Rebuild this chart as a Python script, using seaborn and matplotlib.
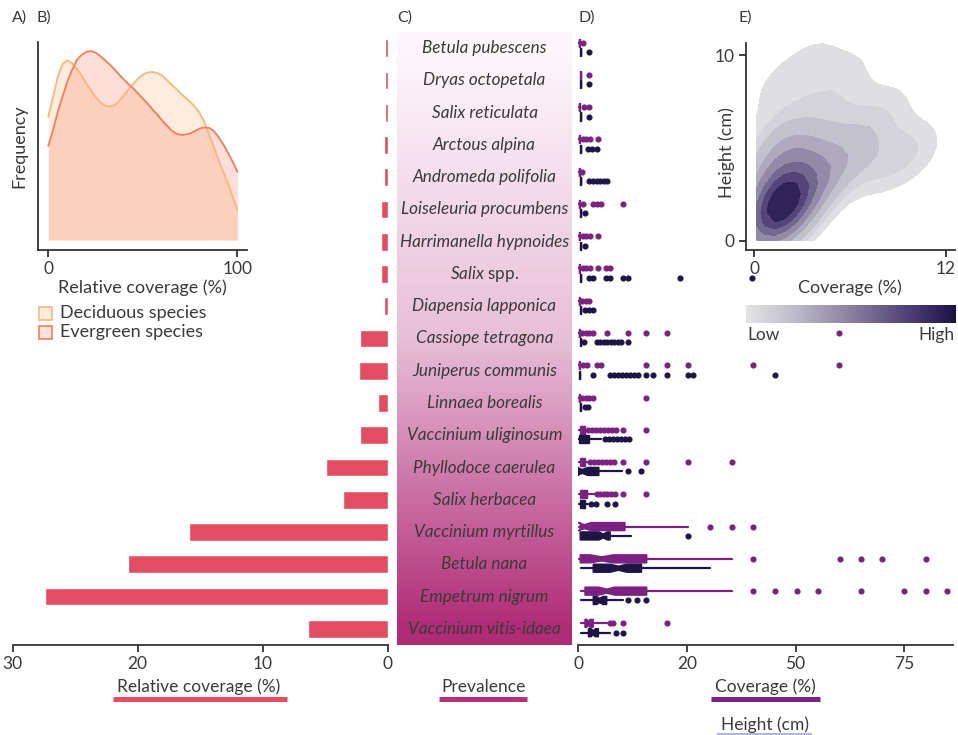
import numpy as np
import pandas as pd
import matplotlib
matplotlib.use("Agg")
import matplotlib.pyplot as plt
import seaborn as sns
from matplotlib.colors import LinearSegmentedColormap, Normalize
from matplotlib.cm import ScalarMappable
from matplotlib.lines import Line2D
from matplotlib.patches import Rectangle

# ---------------------------------------------------------------- data
species = ["Betula pubescens", "Dryas octopetala", "Salix reticulata", "Arctous alpina",
           "Andromeda polifolia", "Loiseleuria procumbens", "Harrimanella hypnoides",
           "Salix spp.", "Diapensia lapponica", "Cassiope tetragona", "Juniperus communis",
           "Linnaea borealis", "Vaccinium uliginosum", "Phyllodoce caerulea",
           "Salix herbacea", "Vaccinium myrtillus", "Betula nana", "Empetrum nigrum",
           "Vaccinium vitis-idaea"]

# A) relative coverage (%)
rel_cover = [0.2, 0.2, 0.2, 0.25, 0.25, 0.5, 0.5, 0.5, 0.25, 2.2, 2.25, 0.8, 2.2,
             4.9, 3.6, 15.9, 20.8, 27.4, 6.4]

# C) prevalence (% of plots)
prevalence = [4, 9, 14, 19, 24, 29, 34, 39, 44, 49, 54, 59, 64, 69, 74, 79, 84, 89, 94]

# B) density of relative coverage, deciduous vs evergreen species
dens_x = [0, 2.5, 5, 7.5, 10, 12.5, 15, 17.5, 20, 22.5, 25, 27.5, 30, 32.5, 35, 37.5,
          40, 42.5, 45, 47.5, 50, 52.5, 55, 57.5, 60, 62.5, 65, 67.5, 70, 72.5, 75,
          77.5, 80, 82.5, 85, 87.5, 90, 92.5, 95, 97.5, 100]
dens_deciduous = [3.70, 4.30, 4.90, 5.28, 5.40, 5.32, 5.15, 4.95, 4.72, 4.50, 4.30,
                  4.14, 4.04, 4.01, 4.05, 4.18, 4.35, 4.53, 4.70, 4.85, 4.97, 5.03,
                  5.05, 5.02, 4.95, 4.82, 4.68, 4.55, 4.40, 4.28, 4.15, 4.00, 3.82,
                  3.55, 3.18, 2.80, 2.40, 2.05, 1.70, 1.30, 0.90]
dens_evergreen = [2.83, 3.30, 3.85, 4.30, 4.75, 5.10, 5.40, 5.56, 5.65, 5.68, 5.63,
                  5.53, 5.40, 5.27, 5.13, 4.97, 4.82, 4.68, 4.55, 4.40, 4.25, 4.10,
                  3.93, 3.78, 3.60, 3.45, 3.30, 3.20, 3.16, 3.17, 3.20, 3.27, 3.35,
                  3.38, 3.37, 3.28, 3.10, 2.88, 2.62, 2.35, 2.05]

# D) coverage (%) box statistics per species
cov_lo = [0.1, 0.5, 0.1, 0.1, 0.1, 0.1, 0.1, 0.1, 0.1, 0.1, 0.1, 0.1, 0.3, 0.3, 0.3, 0.3, 0.3, 0.8, 0.8]
cov_q1 = [0.2, 0.5, 0.2, 0.2, 0.2, 0.2, 0.2, 0.2, 0.2, 0.2, 0.2, 0.2, 0.4, 0.4, 0.4, 0.5, 0.5, 1.6, 1.6]
cov_med = [0.3, 0.6, 0.3, 0.3, 0.3, 0.3, 0.3, 0.3, 0.3, 0.3, 0.3, 0.3, 0.8, 0.9, 1.0, 1.5, 5.4, 6.6, 2.4]
cov_q3 = [0.4, 0.7, 0.4, 0.4, 0.4, 0.4, 0.4, 0.4, 0.4, 0.4, 0.4, 0.4, 1.5, 1.6, 2.0, 10.8, 15.8, 15.8, 3.5]
cov_hi = [0.5, 0.7, 0.5, 0.5, 0.5, 0.5, 0.5, 0.5, 0.5, 0.5, 0.5, 0.5, 1.8, 2.2, 3.8, 25.4, 35.3, 35.3, 6.6]
cov_ci = {15: (0.0, 3.0), 16: (2.8, 8.1), 17: (4.7, 8.5), 18: (2.0, 2.8)}
cov_out = [[1.2], [2.6], [1.3, 2.6], [1.1, 1.9, 2.7, 4.6], [1.0],
           [1.2, 3.5, 4.4, 5.3, 10.4], [1.1, 1.9, 2.7, 4.6],
           [1.1, 1.9, 2.7, 4.6, 6.4, 7.3], [1.0, 1.8, 2.5],
           [1.0, 1.8, 2.6, 3.4, 6.6, 11.6, 15.6, 20.4, 60.0],
           [1.2, 2.0, 4.3, 5.3, 15.6, 20.4, 25.4, 40.2, 60.0],
           [1.0, 1.8, 2.6, 3.4, 15.6],
           [2.4, 3.3, 4.2, 5.1, 6.0, 6.9, 7.8, 8.7, 10.4, 15.6],
           [2.8, 3.7, 4.6, 5.5, 6.4, 7.3, 8.2, 10.4, 15.6, 25.4, 35.3],
           [4.3, 5.1, 5.9, 6.7, 7.5, 8.5, 10.4, 15.6],
           [30.3, 35.3, 40.2],
           [40.2, 60.2, 65.1, 69.9, 80.0],
           [40.2, 45.3, 50.3, 55.1, 65.1, 75.0, 80.0, 84.9],
           [7.4, 8.1, 10.4, 20.4]]

# D) height (cm) box statistics per species
hgt_lo = [0.5, 0.5, 0.5, 0.5, 0.5, 0.5, 0.5, 0.5, 0.5, 0.5, 0.3, 0.4, 0.1, 0.0, 0.3, 0.5, 0.8, 0.8, 0.8]
hgt_q1 = [0.5, 0.5, 0.5, 0.5, 0.5, 0.5, 0.5, 0.5, 0.5, 0.5, 0.3, 0.4, 0.3, 0.1, 0.4, 0.5, 3.5, 3.5, 2.4]
hgt_med = [0.6, 0.6, 0.6, 0.6, 0.6, 0.6, 0.6, 0.6, 0.6, 0.6, 0.4, 0.5, 1.2, 1.0, 0.9, 5.8, 9.3, 5.0, 3.5]
hgt_q3 = [0.7, 0.7, 0.7, 0.7, 0.7, 0.7, 0.7, 0.7, 0.7, 0.7, 0.5, 0.6, 2.6, 4.8, 1.6, 7.4, 14.6, 6.6, 4.7]
hgt_hi = [0.7, 0.7, 0.7, 0.7, 0.7, 0.7, 0.7, 0.7, 0.7, 0.7, 0.5, 0.6, 5.4, 10.0, 2.4, 12.1, 30.3, 10.4, 7.4]
hgt_ci = {13: (-0.3, 2.3), 15: (4.8, 6.8), 16: (7.4, 11.2), 17: (4.3, 5.7), 18: (3.0, 4.0)}
hgt_out = [[2.6], [2.6], [2.6], [2.4, 3.3, 4.3], [2.6, 3.5, 4.3, 5.1, 5.9, 6.7],
           [1.6], [1.6], [2.6, 3.5, 6.4, 7.3, 10.4, 11.4, 23.4, 40.0], [1.6, 2.5, 3.4],
           [1.4, 4.3, 5.1, 5.9, 6.7, 7.5, 8.3, 9.1, 9.9, 11.6],
           [3.5, 7.4, 8.3, 9.2, 10.1, 11.0, 11.9, 12.8, 13.7, 15.6, 17.3, 20.4, 25.2,
            26.4, 45.3],
           [1.5, 2.4], [6.3, 7.2, 8.1, 9.0, 9.9, 10.8, 11.7], [11.6, 14.5],
           [3.1, 4.1, 6.6, 8.4], [25.4], [], [11.6, 13.5, 15.6], [8.7, 10.4]]

# E) plot-level coverage (%) and height (cm)
plot_cov = [0.6, 0.8, 1.0, 1.0, 1.2, 1.3, 1.4, 1.5, 1.5, 1.6, 1.7, 1.8, 1.9, 2.0, 2.1,
            2.2, 2.4, 2.5, 0.7, 1.1, 2.7, 1.9, 0.9, 2.3, 1.4,
            0.7, 1.6, 2.6, 3.4, 3.2, 3.9, 2.2, 1.0, 3.4, 4.6, 4.0, 5.2, 2.6, 1.4, 4.2,
            6.2, 5.2, 6.5,
            0.9, 2.8, 4.6, 6.2, 7.6, 8.4, 8.0, 9.8, 3.8, 6.0, 8.6, 10.4]
plot_hgt = [1.0, 1.8, 0.7, 2.5, 1.3, 2.1, 1.6, 0.9, 2.6, 1.9, 1.3, 2.3, 1.7, 2.9, 1.1,
            2.2, 1.6, 2.7, 2.7, 3.1, 2.1, 3.4, 1.4, 0.7, 0.5,
            4.0, 4.2, 3.8, 3.2, 1.8, 4.0, 5.0, 5.3, 5.2, 3.5, 3.0, 4.6, 5.6, 5.8, 5.4,
            4.6, 3.4, 5.2,
            8.2, 8.8, 8.0, 7.2, 6.0, 4.2, 4.0, 5.2, 9.8, 9.2, 7.4, 4.6]

# D) axis ticks
d_ticks = [0, 25, 50, 75]
d_ticklabels = ["0", "20", "50", "75"]

# ---------------------------------------------------------------- style
sns.set_theme(style="white")
plt.rcParams["font.family"] = ["Lato", "DejaVu Sans"]
plt.rcParams["mathtext.fontset"] = "custom"
plt.rcParams["mathtext.it"] = "Lato:italic"
plt.rcParams["mathtext.rm"] = "Lato"

TXT = "#3a3a3a"
AX = "#333333"
RED = "#e34d64"
MAGENTA = "#b5317b"
PURPLE = "#7b2181"
NAVY = "#1f1446"
FS = 12.5

W, H = 958, 735
fig = plt.figure(figsize=(W / 100, H / 100), dpi=100)


def px_axes(x0, y0, x1, y1, **kw):
    return fig.add_axes([x0 / W, 1 - y1 / H, (x1 - x0) / W, (y1 - y0) / H], **kw)


def style_bottom(ax):
    for s in ["top", "right", "left"]:
        ax.spines[s].set_visible(False)
    ax.spines["bottom"].set_color(AX)
    ax.spines["bottom"].set_linewidth(1.3)
    ax.tick_params(axis="x", bottom=True, length=5, width=1.3, color=AX,
                   labelsize=FS, labelcolor=TXT, pad=3)
    ax.tick_params(axis="y", left=False, labelleft=False)


ROW_TOP, ROW_BOT = 32, 645
n = len(species)

# ---------------------------------------------------------------- A) bars
axA = px_axes(12.7, ROW_TOP, 387.5, ROW_BOT)
dfA = pd.DataFrame({"species": species, "cover": rel_cover})
sns.barplot(data=dfA, x="cover", y="species", orient="h", color=RED, saturation=1,
            width=0.55, ax=axA)
axA.set_xlim(30, 0)
axA.set_ylim(n - 0.5, -0.5)
axA.set_xticks([30, 20, 10, 0])
axA.set_xlabel("")
axA.set_ylabel("")
style_bottom(axA)
axA.set_facecolor("none")

# ---------------------------------------------------------------- C) prevalence
axC = px_axes(397, ROW_TOP, 572, ROW_BOT)
cmap_prev = LinearSegmentedColormap.from_list("prev", ["#fdf7fb", "#e8bfd8", "#b02c76"])
axC.imshow(np.array(prevalence, dtype=float)[:, None], cmap=cmap_prev, aspect="auto",
           interpolation="bilinear", extent=(0, 1, n - 0.5, -0.5), vmin=4, vmax=94)
axC.set_xlim(0, 1)
axC.set_ylim(n - 0.5, -0.5)
axC.axis("off")
for i, name in enumerate(species):
    if name.endswith("spp."):
        axC.text(0.5, i, r"$\mathit{Salix}$ spp.", ha="center", va="center",
                 fontsize=12.3, color=TXT)
    else:
        axC.text(0.5, i, name, ha="center", va="center", fontsize=12.3,
                 style="italic", color=TXT)

# ---------------------------------------------------------------- D) boxes
axD = px_axes(578, ROW_TOP, 953, ROW_BOT)
axD.set_facecolor("none")


def draw_box(ax, pos, lo, q1, med, q3, hi, fl, ci, color):
    st = dict(whislo=lo, q1=q1, med=med, q3=q3, whishi=hi, fliers=fl)
    if ci is not None:
        st["cilo"], st["cihi"] = ci
    ax.bxp([st], positions=[pos], widths=0.25, orientation="horizontal",
           patch_artist=True, shownotches=ci is not None, showcaps=False,
           manage_ticks=False,
           boxprops=dict(facecolor=color, edgecolor=color, linewidth=1),
           whiskerprops=dict(color=color, linewidth=1.6),
           medianprops=dict(color=color, linewidth=1),
           flierprops=dict(marker="o", markerfacecolor=color, markeredgecolor=color,
                           markersize=3.4, linestyle="none"))


for i in range(n):
    draw_box(axD, i - 0.17, cov_lo[i], cov_q1[i], cov_med[i], cov_q3[i], cov_hi[i],
             cov_out[i], cov_ci.get(i), PURPLE)
    draw_box(axD, i + 0.12, hgt_lo[i], hgt_q1[i], hgt_med[i], hgt_q3[i], hgt_hi[i],
             hgt_out[i], hgt_ci.get(i), NAVY)
axD.set_xlim(0, 86.2)
axD.set_ylim(n - 0.5, -0.5)
axD.set_xticks(d_ticks)
axD.set_xticklabels(d_ticklabels)
style_bottom(axD)

# ---------------------------------------------------------------- B) densities
axB = px_axes(37.7, 42, 246.7, 250)
axB.set_facecolor("none")
DEC_EDGE, DEC_FILL = "#fdb57a", "#fdae6b"
EVE_EDGE, EVE_FILL = "#f27e5b", "#f16a4a"
axB.fill_between(dens_x, dens_deciduous, 0, color=DEC_FILL, alpha=0.22, lw=0)
axB.fill_between(dens_x, dens_evergreen, 0, color=EVE_FILL, alpha=0.22, lw=0)
sns.lineplot(x=dens_x, y=dens_deciduous, color=DEC_EDGE, lw=1.3, ax=axB)
sns.lineplot(x=dens_x, y=dens_evergreen, color=EVE_EDGE, lw=1.3, ax=axB)
axB.set_xlim(-5.6, 104.9)
axB.set_ylim(-0.30, 5.95)
axB.set_xticks([0, 100])
axB.set_yticks([])
for s in ["top", "right"]:
    axB.spines[s].set_visible(False)
for s in ["left", "bottom"]:
    axB.spines[s].set_color(AX)
    axB.spines[s].set_linewidth(1.3)
axB.tick_params(axis="x", bottom=True, length=5, width=1.3, color=AX, labelsize=FS,
                labelcolor=TXT, pad=3)
axB.set_xlabel("Relative coverage (%)", fontsize=13, color=TXT, labelpad=2)
axB.set_ylabel("Frequency", fontsize=13, color=TXT)
axB.yaxis.set_label_coords(-0.05, 0.5)

# legend for B
for ytxt, label, fc, ec in [(313, "Deciduous species", "#feeee1", DEC_EDGE),
                            (332, "Evergreen species", "#fbe1db", EVE_EDGE)]:
    fig.add_artist(Rectangle((38.5 / W, 1 - (ytxt + 6.5) / H), 13 / W, 13 / H,
                             transform=fig.transFigure, facecolor=fc, edgecolor=ec,
                             linewidth=1.2))
    fig.text(60 / W, 1 - ytxt / H, label, fontsize=13, color=TXT, va="center",
             ha="left")

# ---------------------------------------------------------------- E) 2D density
cmap_e = LinearSegmentedColormap.from_list(
    "lowhigh", ["#e4e4e4", "#bab7c7", "#8a819f", "#54467a", "#1c1044"])
axE = px_axes(745.7, 43, 955, 250)
axE.set_facecolor("none")
sns.kdeplot(x=plot_cov, y=plot_hgt, fill=True, levels=9, thresh=0.05, cmap=cmap_e,
            clip=((0.15, 12.5), (0.0, 10.6)), gridsize=22, bw_adjust=1.08, ax=axE)
axE.set_xlim(-0.52, 12.56)
axE.set_ylim(-0.5, 10.65)
axE.set_xticks([0, 12])
axE.set_yticks([0, 10])
for s in ["top", "right"]:
    axE.spines[s].set_visible(False)
for s in ["left", "bottom"]:
    axE.spines[s].set_color(AX)
    axE.spines[s].set_linewidth(1.3)
axE.tick_params(axis="both", bottom=True, left=True, length=5, width=1.3, color=AX,
                labelsize=FS, labelcolor=TXT, pad=3)
axE.set_xlabel("Coverage (%)", fontsize=13, color=TXT, labelpad=2)
axE.set_ylabel("Height (cm)", fontsize=13, color=TXT)
axE.yaxis.set_label_coords(-0.05, 0.47)

# colour bar
axCB = px_axes(745.7, 305, 955.7, 322.7)
cb = fig.colorbar(ScalarMappable(norm=Normalize(0, 1), cmap=cmap_e), cax=axCB,
                  orientation="horizontal")
cb.outline.set_visible(False)
cb.set_ticks([])
fig.text(747 / W, 1 - 335 / H, "Low", fontsize=FS, color=TXT, ha="left", va="center")
fig.text(955 / W, 1 - 335 / H, "High", fontsize=FS, color=TXT, ha="right", va="center")

# ---------------------------------------------------------------- panel tags
for x, tag in [(12, "A)"), (36, "B)"), (397, "C)"), (578, "D)"), (738, "E)")]:
    fig.text(x / W, 1 - 18 / H, tag, fontsize=11.5, color=TXT, ha="left", va="center")

# ---------------------------------------------------------------- bottom keys
def key(xc, y_txt, label, x0, x1, y_line, color, lw):
    fig.text(xc / W, 1 - y_txt / H, label, fontsize=FS, color=TXT, ha="center",
             va="center")
    fig.add_artist(Line2D([x0 / W, x1 / W], [1 - y_line / H] * 2,
                          transform=fig.transFigure, color=color, lw=lw,
                          solid_capstyle="butt"))


key(199, 687, "Relative coverage (%)", 113, 287, 699, RED, 3.6)
key(483.5, 687, "Prevalence", 439, 527, 699, MAGENTA, 3.6)
key(765.5, 687, "Coverage (%)", 711, 820, 699, PURPLE, 3.6)
key(765, 725, "Height (cm)", 717, 812, 734, "#a7a4d6", 1.2)

fig.savefig("out.png", dpi=100)
